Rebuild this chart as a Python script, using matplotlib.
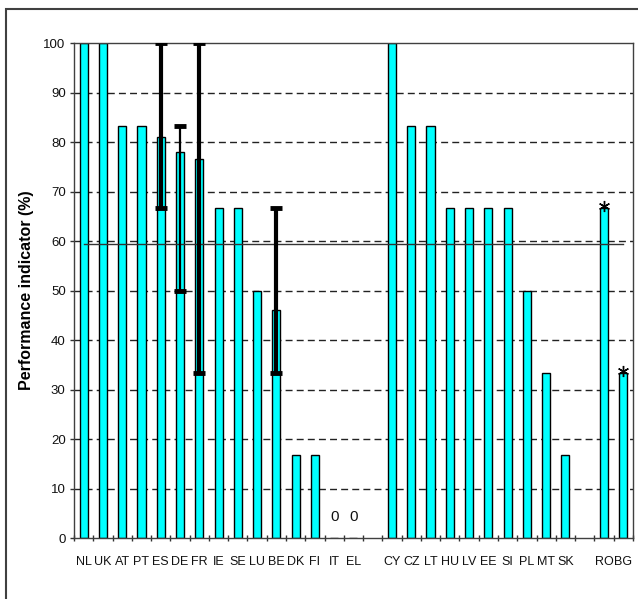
import matplotlib.pyplot as plt
from matplotlib.patches import Rectangle

# Performance indicator per country, three blocks separated by an empty slot
pays_a = ['NL', 'UK', 'AT', 'PT', 'ES', 'DE', 'FR', 'IE', 'SE', 'LU', 'BE', 'DK', 'FI', 'IT', 'EL']
vals_a = [100, 100, 83.3, 83.3, 81, 78, 76.7, 66.7, 66.7, 50, 46, 16.7, 16.7, 0, 0]

pays_b = ['CY', 'CZ', 'LT', 'HU', 'LV', 'EE', 'SI', 'PL', 'MT', 'SK']
vals_b = [100, 83.3, 83.3, 66.7, 66.7, 66.7, 66.7, 50, 33.3, 16.7]

pays_c = ['RO', 'BG']
vals_c = [66.7, 33.3]

# ranges (min, max) drawn as error bars
plages = {'ES': (66.7, 100), 'DE': (50, 83.3), 'FR': (33.3, 100), 'BE': (33.3, 66.7)}
barres_fines = ['DE']
etoiles = ['RO', 'BG']
moyenne = 59.5

# positions with one empty slot between blocks
pays, vals, pos = [], [], []
x = 0
for bloc_p, bloc_v in [(pays_a, vals_a), (pays_b, vals_b), (pays_c, vals_c)]:
    for p, v in zip(bloc_p, bloc_v):
        pays.append(p)
        vals.append(v)
        pos.append(x)
        x += 1
    x += 1
nb_slots = x - 1

plt.rcParams['font.family'] = ['Liberation Sans', 'DejaVu Sans']

fig = plt.figure(figsize=(6.38, 5.99), dpi=100, facecolor='white')
ax = fig.add_axes([0.116, 0.1018, 0.876, 0.826])

# cadre extérieur
fig.patches.append(Rectangle((6 / 638, -0.1), 1.2, 1.1 - 9 / 599, transform=fig.transFigure,
                             fill=False, edgecolor='#404040', linewidth=1.5, clip_on=False))

ax.bar(pos, vals, width=0.42, color='#00FFFF', edgecolor='black', linewidth=1.0, zorder=2)

for yg in range(10, 100, 10):
    ax.axhline(yg, color='#222222', linewidth=1.0, linestyle=(0, (5, 3)), zorder=1)

ax.plot([pos[0], pos[-1]], [moyenne, moyenne], color='#333333', linewidth=1.0, zorder=3)

for p, (bas, haut) in plages.items():
    i = pays.index(p)
    lw = 1.6 if p in barres_fines else 3.0
    ax.errorbar(pos[i], bas, yerr=[[0], [haut - bas]], fmt='none', ecolor='black',
                elinewidth=lw, capsize=4, capthick=3.5, zorder=4)

for p in etoiles:
    i = pays.index(p)
    ax.plot(pos[i], vals[i] + 0.4, marker=(6, 2, 0), markersize=8, color='black',
            markeredgewidth=1.0, zorder=5)

for p, v, xp in zip(pays, vals, pos):
    if v == 0:
        ax.text(xp, 3.5, '0', ha='center', va='baseline', fontsize=11, color='#111111')

ax.set_xlim(-0.5, nb_slots - 0.5)
ax.set_ylim(0, 100)
ax.set_xticks(pos)
ax.set_xticklabels(pays, fontsize=9, color='#111111')
ax.set_xticks([i - 0.5 for i in range(nb_slots + 1)], minor=True)
ax.tick_params(axis='x', which='major', length=0, pad=13)
ax.tick_params(axis='x', which='minor', direction='inout', length=5, width=1, color='#333333')
ax.set_yticks(range(0, 101, 10))
ax.tick_params(axis='y', length=3, width=1, color='#333333', labelsize=9.5, labelcolor='#111111', pad=3)

for s in ax.spines.values():
    s.set_color('#404040')
    s.set_linewidth(1.0)

ax.set_ylabel('Performance indicator (%)', fontsize=11.5, fontweight='bold', labelpad=7)

fig.savefig('out.png', dpi=100, facecolor='white')
